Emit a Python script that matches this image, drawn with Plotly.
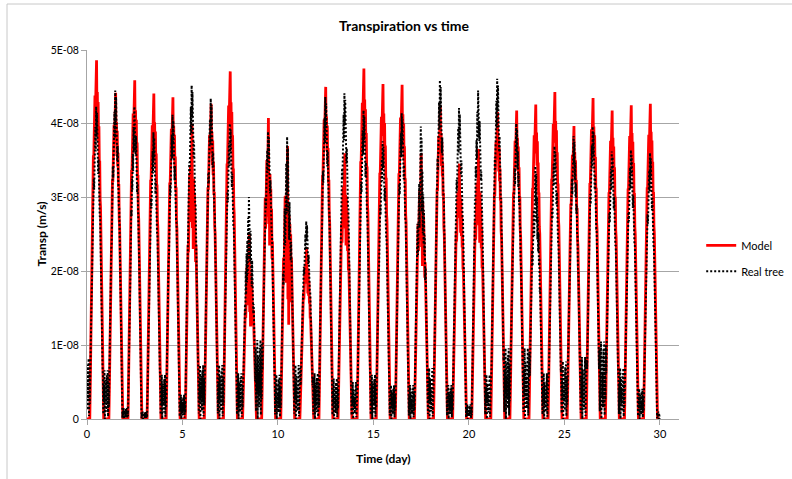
import plotly.graph_objects as go

# ---------------- data (values in units of 1E-08 m/s) ----------------
DAYS = list(range(30))

MODEL_PEAK = [4.86, 4.42, 4.59, 4.41, 4.36, 4.00, 4.27, 4.71, 2.51, 4.08,
              3.70, 2.33, 4.50, 3.60, 4.75, 4.54, 4.53, 3.60, 4.25, 3.46,
              3.66, 4.16, 4.18, 4.26, 4.43, 3.97, 4.35, 4.18, 4.25, 4.27]

TREE_PEAK = [4.25, 4.47, 4.25, 3.90, 4.14, 4.54, 4.36, 4.02, 3.02, 3.91,
             3.84, 2.69, 4.38, 4.43, 4.20, 3.78, 4.16, 3.98, 4.61, 4.23,
             4.47, 4.63, 4.02, 3.44, 3.71, 3.85, 3.98, 3.64, 3.66, 3.62]

# night-time level of the real tree: before day 0, then after each day
TREE_NIGHT = [0.82,
              0.66, 0.15, 0.10, 0.60, 0.33, 0.73, 0.73, 0.62, 1.07, 0.60,
              0.73, 0.62, 0.55, 0.50, 0.60, 0.46, 0.46, 0.69, 0.46, 0.20,
              0.60, 0.96, 0.96, 0.62, 0.78, 0.84, 1.05, 0.69, 0.41, 0.10]

# half-hourly diurnal profile (fraction of daily peak)
PROFILE = [0, 0, 0, 0, 0, 0, 0, 0,
           0.075, 0.17, 0.26, 0.35, 0.43, 0.515, 0.59, 0.665, 0.735, 0.79,
           0.85, 0.89, 0.93, 0.96, 0.98, 0.996, 1.0, 0.996, 0.98, 0.96,
           0.93, 0.89, 0.85, 0.79, 0.735, 0.665, 0.59, 0.515, 0.43, 0.35,
           0.26, 0.17, 0.075,
           0, 0, 0, 0, 0, 0, 0]

MODEL_RIPPLE = [1, 1, 1, 1, 1, 1, 1, 1, 1, 1, 1, 1, 1,
                0.97, 1.0, 0.94, 1.0, 0.92, 0.99, 0.9, 0.97, 0.88, 0.95, 0.9,
                1.0, 0.86, 0.93, 0.84, 0.95, 0.87, 0.96, 0.9, 0.98, 0.92, 1.0,
                1, 1, 1, 1, 1, 1, 1, 1, 1, 1, 1, 1, 1]

TREE_RIPPLE = [1, 1, 1, 1, 1, 1, 1, 1, 1, 1, 1, 1,
               0.95, 1.0, 0.9, 1.0, 0.88, 0.97, 0.86, 0.95, 0.85, 0.97, 0.87,
               1.0, 0.9, 0.98, 0.86, 0.94, 0.84, 0.93, 0.85, 0.95, 0.88, 0.97,
               0.9, 1.0,
               1, 1, 1, 1, 1, 1, 1, 1, 1, 1, 1, 1]

NIGHT_PATTERN = [0.6, 0.15, 0.9, 0.3, 1.0, 0.05, 0.75, 0.25, 0.95, 0.4, 0.8,
                 0, 0, 0, 0, 0, 0, 0, 0, 0, 0, 0, 0, 0, 0, 0, 0, 0, 0, 0, 0,
                 0, 0, 0, 0, 0, 0, 0,
                 0.5, 0.2, 0.9, 0.1, 0.7, 0.35, 1.0, 0.0, 0.8, 0.3]

MODEL_JAG = [1, 1, 1, 1, 1, 2.5, 1, 1, 3, 2.5,
             4, 1.5, 1, 2, 1, 1, 1, 2.5, 1, 1.5,
             2, 1, 1, 1, 1, 1, 1, 1, 1, 1]

TREE_JAG = [1, 1, 1, 1, 1, 1, 1, 1, 2, 1,
            2, 1, 1, 1, 1, 1, 1, 2, 1, 1,
            1, 1, 1, 1.5, 1, 1, 1, 1, 1, 1]

X_TICKS = [0, 5, 10, 15, 20, 25, 30]
Y_TICKS = [0, 1e-8, 2e-8, 3e-8, 4e-8, 5e-8]
Y_TICKTEXT = ["0", "1E-08", "2E-08", "3E-08", "4E-08", "5E-08"]

# ---------------- build series ----------------
t, model, tree = [], [], []
for d in DAYS:
    for h in range(48):
        t.append(d + h / 48)
        rm = 1 - MODEL_JAG[d] * (1 - MODEL_RIPPLE[h])
        model.append(MODEL_PEAK[d] * PROFILE[h] * rm * 1e-8)
        rt = 1 - TREE_JAG[d] * (1 - TREE_RIPPLE[h])
        lvl = TREE_NIGHT[d] if h < 24 else TREE_NIGHT[d + 1]
        tree.append(max(TREE_PEAK[d] * PROFILE[h] * rt, lvl * NIGHT_PATTERN[h]) * 1e-8)
t.append(30.0)
model.append(0.0)
tree.append(0.0)

FONT = "Lato"
GRAY = "#a6a6a6"

fig = go.Figure()
fig.add_trace(go.Scatter(x=t, y=model, mode="lines", name="Model",
                         legendgroup="a",
                         line=dict(color="#ff0000", width=2.8)))
fig.add_trace(go.Scatter(x=t, y=tree, mode="lines", name="Real tree",
                         legendgroup="b",
                         line=dict(color="#000000", width=2, dash="2px,2px")))

fig.update_layout(
    width=792, height=479,
    margin=dict(l=87, r=113, t=50, b=60, autoexpand=False),
    paper_bgcolor="white", plot_bgcolor="white",
    font=dict(family=FONT, size=11, color="#000000"),
    title=dict(text="<b>Transpiration vs time</b>", x=404 / 792, xref="container",
               xanchor="center", y=1 - 26 / 479, yref="container", yanchor="middle",
               font=dict(family=FONT, size=14, color="#000000")),
    showlegend=True,
    legend=dict(x=1.0375, xanchor="left", y=0.51, yanchor="top",
                font=dict(family=FONT, size=11, color="#000000"),
                tracegroupgap=7, bgcolor="rgba(0,0,0,0)"),
    xaxis=dict(range=[0, 31], tickvals=X_TICKS, ticktext=[str(v) for v in X_TICKS],
               showgrid=False, zeroline=False, showline=True, linecolor=GRAY,
               linewidth=1, ticks="outside", ticklen=5, tickcolor=GRAY,
               tickfont=dict(family=FONT, size=11, color="#000000")),
    yaxis=dict(range=[0, 5e-8], tickvals=Y_TICKS, ticktext=Y_TICKTEXT,
               showgrid=True, gridcolor=GRAY, gridwidth=1, zeroline=False,
               showline=True, linecolor=GRAY, linewidth=1, ticks="outside",
               ticklen=5, tickcolor=GRAY,
               tickfont=dict(family=FONT, size=10.5, color="#000000")),
    annotations=[
        dict(text="<b>Time (day)</b>", xref="paper", yref="paper",
             x=0.5, y=-(458 - 419) / 369, xanchor="center", yanchor="middle",
             showarrow=False, font=dict(family=FONT, size=12, color="#000000")),
        dict(text="<b>Transp (m/s)</b>", xref="paper", yref="paper",
             x=-(87 - 41) / 592, y=0.5, xanchor="center", yanchor="middle",
             textangle=-90, showarrow=False,
             font=dict(family=FONT, size=12, color="#000000")),
    ],
    shapes=[
        dict(type="rect", xref="paper", yref="paper",
             x0=-(87 - 7) / 592, x1=(800 - 87) / 592,
             y0=-(490 - 419) / 369, y1=(419 - 4) / 369,
             line=dict(color="#c8c8c8", width=1), layer="below"),
    ],
)

fig.write_html("out.html")
